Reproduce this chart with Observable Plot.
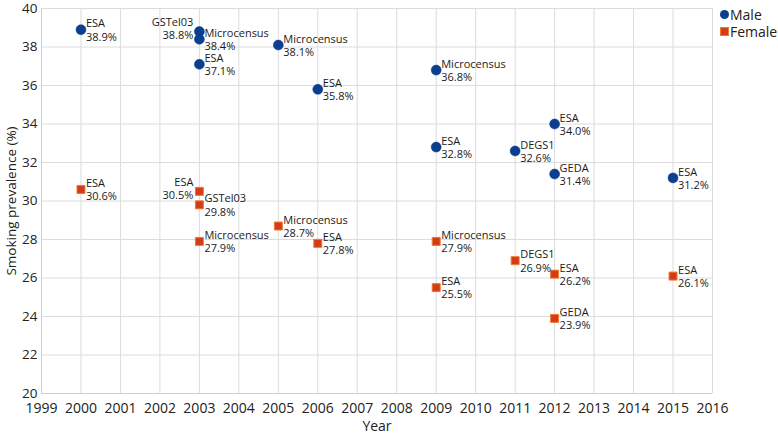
<!DOCTYPE html>
<html><head><meta charset="utf-8">
<script src="https://cdn.jsdelivr.net/npm/d3@7"></script>
<script src="https://cdn.jsdelivr.net/npm/@observablehq/plot@0.6"></script>
<style>
body{margin:0;background:#fff;font-family:"Open Sans",sans-serif;}
#wrap{position:relative;width:778px;height:433px;}
#legend{position:absolute;left:720px;top:6px;font-size:14px;color:#222;line-height:17px;}
#legend div{display:flex;align-items:center;height:17px;}
.sw{display:inline-block;margin-right:1px;}
</style></head><body>
<div id="wrap"><div id="chart"></div>
<div id="legend">
<div><span class="sw" style="width:9px;height:9px;border-radius:50%;background:#0b3f8e"></span>Male</div>
<div><span class="sw" style="width:9px;height:9px;background:#d23c1a;border:1px solid #ee7a30;box-sizing:border-box"></span>Female</div>
</div></div>
<script>
// Male series
const maleYears   = [2000, 2003, 2003, 2003, 2005, 2006, 2009, 2009, 2011, 2012, 2012, 2015];
const maleSources = ["ESA","GSTel03","Microcensus","ESA","Microcensus","ESA","Microcensus","ESA","DEGS1","ESA","GEDA","ESA"];
const maleValues  = [38.9, 38.8, 38.4, 37.1, 38.1, 35.8, 36.8, 32.8, 32.6, 34.0, 31.4, 31.2];
// Female series
const femaleYears   = [2000, 2003, 2003, 2003, 2005, 2006, 2009, 2009, 2011, 2012, 2012, 2015];
const femaleSources = ["ESA","ESA","GSTel03","Microcensus","Microcensus","ESA","Microcensus","ESA","DEGS1","ESA","GEDA","ESA"];
const femaleValues  = [30.6, 30.5, 29.8, 27.9, 28.7, 27.8, 27.9, 25.5, 26.9, 26.2, 23.9, 26.1];
// Axis ticks
const xTicks = d3.range(1999, 2017);
const yTicks = d3.range(20, 41, 2);
// points whose label sits to the left
const leftLabelled = ["Male|2003|GSTel03", "Female|2003|ESA"];

const male = maleYears.map((y,i)=>({sex:"Male", year:y, source:maleSources[i], value:maleValues[i]}));
const female = femaleYears.map((y,i)=>({sex:"Female", year:y, source:femaleSources[i], value:femaleValues[i]}));
const all = male.concat(female);
const isLeft = d => leftLabelled.includes(`${d.sex}|${d.year}|${d.source}`);
const lab = d => `${d.source}\n${d.value.toFixed(1)}%`;

const chart = Plot.plot({
  width: 778, height: 433,
  marginLeft: 41, marginRight: 66, marginTop: 8, marginBottom: 40,
  style: {fontFamily: '"Open Sans", sans-serif', background: "#fff", color: "#222"},
  x: {domain: [1999, 2016]},
  y: {domain: [20, 40]},
  marks: [
    Plot.gridX(xTicks, {stroke: "#dcdcdc", strokeOpacity: 1}),
    Plot.gridY(yTicks, {stroke: "#dcdcdc", strokeOpacity: 1}),
    Plot.ruleY([20], {stroke: "#cfcfcf"}),
    Plot.ruleX([1999], {stroke: "#cfcfcf"}),
    Plot.axisX(xTicks, {tickSize: 0, tickPadding: 10, fontSize: 14, label: "Year", labelAnchor: "center", labelArrow: "none", labelOffset: 37, tickFormat: d => String(d)}),
    Plot.axisY(yTicks, {tickSize: 0, tickPadding: 4, fontSize: 13.5, label: "Smoking prevalence (%)", labelAnchor: "center", labelArrow: "none", labelOffset: 35}),
    Plot.dot(male, {x: "year", y: "value", r: 5, fill: "#0b3f8e", stroke: "#0b3f8e", strokeWidth: 0.5}),
    Plot.dot(female, {x: "year", y: "value", r: 4.5, symbol: "square", fill: "#d23c1a", stroke: "#ee7a30", strokeWidth: 1}),
    Plot.text(all.filter(d => !isLeft(d)), {x: "year", y: "value", text: lab, textAnchor: "start", dx: 5, lineAnchor: "middle", fontSize: 11, lineHeight: 1.2, fill: "#1a1a1a"}),
    Plot.text(all.filter(isLeft), {x: "year", y: "value", text: lab, textAnchor: "end", dx: -6, dy: -3, lineAnchor: "middle", fontSize: 11, lineHeight: 1.2, fill: "#1a1a1a"})
  ]
});
document.getElementById("chart").appendChild(chart);
</script>
</body></html>
